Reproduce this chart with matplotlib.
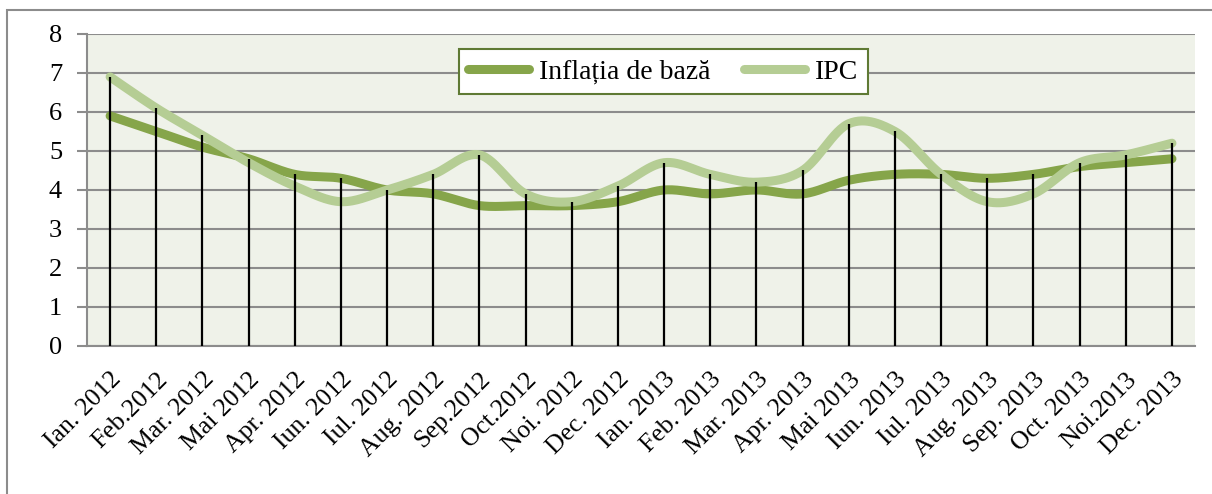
import matplotlib
matplotlib.use("Agg")
import matplotlib.pyplot as plt
from matplotlib.patches import Rectangle
import numpy as np

# luni (axa x)
months = ["Ian. 2012", "Feb.2012", "Mar. 2012", "Mai 2012", "Apr. 2012", "Iun. 2012",
          "Iul. 2012", "Aug. 2012", "Sep.2012", "Oct.2012", "Noi. 2012", "Dec. 2012",
          "Ian. 2013", "Feb. 2013", "Mar. 2013", "Apr. 2013", "Mai 2013", "Iun. 2013",
          "Iul. 2013", "Aug. 2013", "Sep. 2013", "Oct. 2013", "Noi.2013", "Dec. 2013"]

inflatia_baza = [5.9, 5.5, 5.1, 4.8, 4.4, 4.3, 4.0, 3.9, 3.6, 3.6, 3.6, 3.7,
                 4.0, 3.9, 4.0, 3.9, 4.25, 4.4, 4.4, 4.3, 4.4, 4.6, 4.7, 4.8]
ipc = [6.9, 6.1, 5.4, 4.7, 4.1, 3.7, 4.0, 4.4, 4.9, 3.9, 3.7, 4.1,
       4.7, 4.4, 4.2, 4.5, 5.7, 5.5, 4.4, 3.7, 3.9, 4.7, 4.9, 5.2]

yticks = [0, 1, 2, 3, 4, 5, 6, 7, 8]

DARK = "#86A54A"
LIGHT = "#B5CD94"
FONT = "Liberation Serif"


def smooth(x, y, n=30):
    # curba neteda in stil Excel (Catmull-Rom -> Bezier)
    x = np.asarray(x, float)
    y = np.asarray(y, float)
    px = np.concatenate([[x[0]], x, [x[-1]]])
    py = np.concatenate([[y[0]], y, [y[-1]]])
    xs, ys = [], []
    t = np.linspace(0, 1, n)
    for i in range(1, len(px) - 2):
        p0 = np.array([px[i], py[i]])
        p3 = np.array([px[i + 1], py[i + 1]])
        c1 = p0 + (np.array([px[i + 1], py[i + 1]]) - np.array([px[i - 1], py[i - 1]])) / 6
        c2 = p3 - (np.array([px[i + 2], py[i + 2]]) - p0) / 6
        b = ((1 - t) ** 3)[:, None] * p0 + (3 * (1 - t) ** 2 * t)[:, None] * c1 \
            + (3 * (1 - t) * t ** 2)[:, None] * c2 + (t ** 3)[:, None] * p3
        xs.append(b[:, 0])
        ys.append(b[:, 1])
    return np.concatenate(xs), np.concatenate(ys)


fig = plt.figure(figsize=(12.12, 4.94), dpi=100)
ax = fig.add_axes([0.0718, 0.2996, 0.9142, 0.6316])
ax.set_facecolor("#EFF2E9")

x = np.arange(len(months))
xb, yb = smooth(x, inflatia_baza)
xi, yi = smooth(x, ipc)

ax.plot(xb, yb, color=DARK, lw=6.5, solid_capstyle="round", label="Inflația de bază", zorder=3)
ax.plot(xi, yi, color=LIGHT, lw=6.5, solid_capstyle="round", label="IPC", zorder=3)
ax.vlines(x, 0, np.maximum(inflatia_baza, ipc), color="black", lw=1.6, zorder=4)

ax.set_xlim(-0.5, len(months) - 0.5)
ax.set_ylim(0, 8)
ax.set_yticks(yticks)
ax.set_yticklabels([str(v) for v in yticks], fontsize=19, family=FONT)
ax.yaxis.grid(True, color="#8C8C8C", lw=1.5)
ax.set_axisbelow(True)

ax.set_xticks(x)
ax.set_xticklabels(months, rotation=45, ha="right", rotation_mode="anchor",
                   fontsize=18.5, family=FONT)
ax.tick_params(axis="x", length=0, pad=16)
ax.tick_params(axis="y", length=7, width=1.5, color="#8C8C8C", pad=11)

for s in ["top", "right"]:
    ax.spines[s].set_visible(False)
ax.spines["left"].set_color("#8C8C8C")
ax.spines["left"].set_linewidth(1.5)
ax.spines["bottom"].set_color("#8C8C8C")
ax.spines["bottom"].set_linewidth(1.5)

leg = ax.legend(loc="upper center", bbox_to_anchor=(0.52, 0.995), ncol=2,
                prop={"family": FONT, "size": 20}, frameon=True, fancybox=False,
                handlelength=2.2, handletextpad=0.35, columnspacing=1.2,
                borderpad=0.35)
leg.get_frame().set_edgecolor("#5F7A34")
leg.get_frame().set_linewidth(1.5)
leg.get_frame().set_alpha(1)

# chenarul graficului
fig.patches.append(Rectangle((7 / 1212, -0.1), 1.2, 0.98 + 0.1, transform=fig.transFigure,
                             fill=False, edgecolor="#8C8C8C", lw=1.5))

fig.savefig("out.png", dpi=100)
